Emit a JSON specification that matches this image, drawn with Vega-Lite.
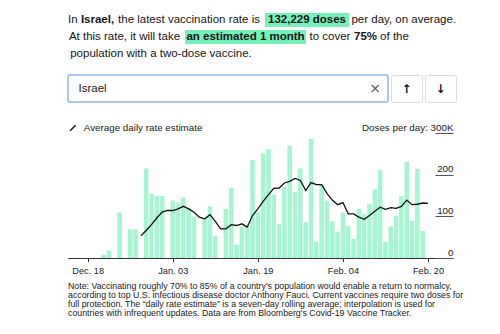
{
  "$schema": "https://vega.github.io/schema/vega-lite/v6.json",
  "padding": {"left": 67, "top": 13, "right": 0, "bottom": 0},
  "background": "white",
  "config": {
    "font": "Liberation Sans",
    "view": {"stroke": null},
    "text": {"font": "Liberation Sans", "fontSize": 11.5, "color": "#161616"}
  },
  "resolve": {"legend": {"color": "independent"}, "scale": {"color": "independent"}},
  "datasets": {
    "daily": [
      {"date": "2020-12-21T00:00:00", "doses": 8},
      {"date": "2020-12-22T00:00:00", "doses": 18},
      {"date": "2020-12-24T00:00:00", "doses": 109},
      {"date": "2020-12-26T00:00:00", "doses": 69},
      {"date": "2020-12-27T00:00:00", "doses": 69},
      {"date": "2020-12-29T00:00:00", "doses": 215},
      {"date": "2020-12-30T00:00:00", "doses": 154},
      {"date": "2020-12-31T00:00:00", "doses": 149},
      {"date": "2021-01-01T00:00:00", "doses": 149},
      {"date": "2021-01-03T00:00:00", "doses": 138},
      {"date": "2021-01-04T00:00:00", "doses": 133},
      {"date": "2021-01-05T00:00:00", "doses": 145},
      {"date": "2021-01-06T00:00:00", "doses": 120},
      {"date": "2021-01-07T00:00:00", "doses": 100},
      {"date": "2021-01-09T00:00:00", "doses": 95},
      {"date": "2021-01-10T00:00:00", "doses": 124},
      {"date": "2021-01-11T00:00:00", "doses": 52},
      {"date": "2021-01-13T00:00:00", "doses": 118},
      {"date": "2021-01-14T00:00:00", "doses": 168},
      {"date": "2021-01-15T00:00:00", "doses": 32},
      {"date": "2021-01-16T00:00:00", "doses": 76},
      {"date": "2021-01-17T00:00:00", "doses": 77},
      {"date": "2021-01-18T00:00:00", "doses": 235},
      {"date": "2021-01-19T00:00:00", "doses": 110},
      {"date": "2021-01-20T00:00:00", "doses": 251},
      {"date": "2021-01-21T00:00:00", "doses": 261},
      {"date": "2021-01-22T00:00:00", "doses": 152},
      {"date": "2021-01-23T00:00:00", "doses": 81},
      {"date": "2021-01-24T00:00:00", "doses": 171},
      {"date": "2021-01-25T00:00:00", "doses": 269},
      {"date": "2021-01-26T00:00:00", "doses": 159},
      {"date": "2021-01-27T00:00:00", "doses": 215},
      {"date": "2021-01-28T00:00:00", "doses": 86},
      {"date": "2021-01-29T00:00:00", "doses": 286},
      {"date": "2021-01-30T00:00:00", "doses": 39},
      {"date": "2021-01-31T00:00:00", "doses": 176},
      {"date": "2021-02-01T00:00:00", "doses": 138},
      {"date": "2021-02-02T00:00:00", "doses": 88},
      {"date": "2021-02-03T00:00:00", "doses": 63},
      {"date": "2021-02-04T00:00:00", "doses": 109},
      {"date": "2021-02-05T00:00:00", "doses": 77},
      {"date": "2021-02-06T00:00:00", "doses": 46},
      {"date": "2021-02-07T00:00:00", "doses": 118},
      {"date": "2021-02-08T00:00:00", "doses": 105},
      {"date": "2021-02-09T00:00:00", "doses": 130},
      {"date": "2021-02-10T00:00:00", "doses": 164},
      {"date": "2021-02-11T00:00:00", "doses": 211},
      {"date": "2021-02-12T00:00:00", "doses": 39},
      {"date": "2021-02-13T00:00:00", "doses": 76},
      {"date": "2021-02-14T00:00:00", "doses": 102},
      {"date": "2021-02-15T00:00:00", "doses": 148},
      {"date": "2021-02-16T00:00:00", "doses": 231},
      {"date": "2021-02-17T00:00:00", "doses": 89},
      {"date": "2021-02-18T00:00:00", "doses": 214},
      {"date": "2021-02-19T00:00:00", "doses": 65}
    ],
    "avg": [
      {"date": "2020-12-28T00:00:00", "rate": 53},
      {"date": "2020-12-29T00:00:00", "rate": 66},
      {"date": "2020-12-30T00:00:00", "rate": 80},
      {"date": "2020-12-31T00:00:00", "rate": 96},
      {"date": "2021-01-01T00:00:00", "rate": 110},
      {"date": "2021-01-02T00:00:00", "rate": 114},
      {"date": "2021-01-03T00:00:00", "rate": 114},
      {"date": "2021-01-04T00:00:00", "rate": 118},
      {"date": "2021-01-05T00:00:00", "rate": 124},
      {"date": "2021-01-06T00:00:00", "rate": 118},
      {"date": "2021-01-07T00:00:00", "rate": 110},
      {"date": "2021-01-08T00:00:00", "rate": 98},
      {"date": "2021-01-09T00:00:00", "rate": 94},
      {"date": "2021-01-10T00:00:00", "rate": 104},
      {"date": "2021-01-11T00:00:00", "rate": 88},
      {"date": "2021-01-12T00:00:00", "rate": 70},
      {"date": "2021-01-13T00:00:00", "rate": 70},
      {"date": "2021-01-14T00:00:00", "rate": 80},
      {"date": "2021-01-15T00:00:00", "rate": 78},
      {"date": "2021-01-16T00:00:00", "rate": 82},
      {"date": "2021-01-17T00:00:00", "rate": 74},
      {"date": "2021-01-18T00:00:00", "rate": 102},
      {"date": "2021-01-19T00:00:00", "rate": 118},
      {"date": "2021-01-20T00:00:00", "rate": 136},
      {"date": "2021-01-21T00:00:00", "rate": 152},
      {"date": "2021-01-22T00:00:00", "rate": 167},
      {"date": "2021-01-23T00:00:00", "rate": 168},
      {"date": "2021-01-24T00:00:00", "rate": 180},
      {"date": "2021-01-25T00:00:00", "rate": 184},
      {"date": "2021-01-26T00:00:00", "rate": 191},
      {"date": "2021-01-27T00:00:00", "rate": 186},
      {"date": "2021-01-28T00:00:00", "rate": 162},
      {"date": "2021-01-29T00:00:00", "rate": 181},
      {"date": "2021-01-30T00:00:00", "rate": 176},
      {"date": "2021-01-31T00:00:00", "rate": 176},
      {"date": "2021-02-01T00:00:00", "rate": 155},
      {"date": "2021-02-02T00:00:00", "rate": 139},
      {"date": "2021-02-03T00:00:00", "rate": 128},
      {"date": "2021-02-04T00:00:00", "rate": 133},
      {"date": "2021-02-05T00:00:00", "rate": 106},
      {"date": "2021-02-06T00:00:00", "rate": 106},
      {"date": "2021-02-07T00:00:00", "rate": 98},
      {"date": "2021-02-08T00:00:00", "rate": 93},
      {"date": "2021-02-09T00:00:00", "rate": 102},
      {"date": "2021-02-10T00:00:00", "rate": 112},
      {"date": "2021-02-11T00:00:00", "rate": 122},
      {"date": "2021-02-12T00:00:00", "rate": 117},
      {"date": "2021-02-13T00:00:00", "rate": 121},
      {"date": "2021-02-14T00:00:00", "rate": 119},
      {"date": "2021-02-15T00:00:00", "rate": 124},
      {"date": "2021-02-16T00:00:00", "rate": 139},
      {"date": "2021-02-17T00:00:00", "rate": 128},
      {"date": "2021-02-18T00:00:00", "rate": 129},
      {"date": "2021-02-19T00:00:00", "rate": 132},
      {"date": "2021-02-20T00:00:00", "rate": 131}
    ]
  },
  "spacing": 19,
  "vconcat": [
    {
      "spacing": 13,
      "vconcat": [
        {
          "spacing": 3,
          "vconcat": [
            {
              "spacing": 4,
              "bounds": "flush",
              "hconcat": [
                {"width": 9.5, "height": 14, "data": {"values": [{"t": "In"}]}, "mark": "text", "encoding": {"text": {"field": "t"}}},
                {"width": 31, "height": 14, "data": {"values": [{"t": "Israel,"}]}, "mark": {"type": "text", "fontWeight": "bold"}, "encoding": {"text": {"field": "t"}}},
                {"width": 144, "height": 14, "data": {"values": [{"t": "the latest vaccination rate is"}]}, "mark": "text", "encoding": {"text": {"field": "t"}}},
                {"width": 84, "height": 14, "view": {"fill": "#74f0b8", "stroke": null}, "data": {"values": [{"t": "132,229 doses"}]}, "mark": {"type": "text", "fontWeight": "bold"}, "encoding": {"text": {"field": "t"}}},
                {"width": 101.5, "height": 14, "data": {"values": [{"t": "per day, on average."}]}, "mark": "text", "encoding": {"text": {"field": "t"}}}
              ]
            },
            {
              "spacing": 4,
              "bounds": "flush",
              "hconcat": [
                {"width": 113, "height": 14, "data": {"values": [{"t": "At this rate, it will take"}]}, "mark": "text", "encoding": {"text": {"field": "t"}}},
                {"width": 121, "height": 14, "view": {"fill": "#74f0b8", "stroke": null}, "data": {"values": [{"t": "an estimated 1 month"}]}, "mark": {"type": "text", "fontWeight": "bold"}, "encoding": {"text": {"field": "t"}}},
                {"width": 40, "height": 14, "data": {"values": [{"t": "to cover"}]}, "mark": "text", "encoding": {"text": {"field": "t"}}},
                {"width": 23, "height": 14, "data": {"values": [{"t": "75%"}]}, "mark": {"type": "text", "fontWeight": "bold"}, "encoding": {"text": {"field": "t"}}},
                {"width": 27, "height": 14, "data": {"values": [{"t": "of the"}]}, "mark": "text", "encoding": {"text": {"field": "t"}}}
              ]
            },
            {"width": 186, "height": 14, "data": {"values": [{"t": "population with a two-dose vaccine."}]}, "mark": "text", "encoding": {"text": {"field": "t"}}}
          ]
        },
        {
          "spacing": 3,
          "bounds": "flush",
          "hconcat": [
            {
              "width": 320, "height": 27,
              "view": {"fill": "white", "stroke": "#8db7e4", "strokeWidth": 1.5, "cornerRadius": 2},
              "data": {"values": [{"name": "Israel"}]},
              "title": {"text": "×", "orient": "right", "angle": 0, "anchor": "middle", "offset": -24.5, "fontSize": 14, "fontWeight": "normal", "color": "#555", "font": "DejaVu Sans", "align": "center", "baseline": "middle"},
              "mark": {"type": "point", "opacity": 0},
              "encoding": {"y": {"field": "name", "type": "nominal", "axis": {"orient": "left", "title": null, "domain": false, "ticks": false, "labelAlign": "left", "labelPadding": -10, "labelFontSize": 11.5, "labelColor": "#161616", "labelFont": "Liberation Sans"}}}
            },
            {"width": 31, "height": 27, "view": {"fill": "white", "stroke": "#dddddd", "cornerRadius": 2}, "data": {"values": [{"t": "↑"}]}, "mark": {"type": "text", "font": "DejaVu Sans", "fontWeight": "bold", "fontSize": 12}, "encoding": {"text": {"field": "t"}}},
            {"width": 31, "height": 27, "view": {"fill": "white", "stroke": "#dddddd", "cornerRadius": 2}, "data": {"values": [{"t": "↓"}]}, "mark": {"type": "text", "font": "DejaVu Sans", "fontWeight": "bold", "fontSize": 12}, "encoding": {"text": {"field": "t"}}}
          ]
        }
      ]
    },
    {
      "width": 385,
      "height": 125,
      "title": {
        "text": [
          "Note: Vaccinating roughly 70% to 85% of a country's population would enable a return to normalcy,",
          "according to top U.S. infectious disease doctor Anthony Fauci. Current vaccines require two doses for",
          "full protection. The “daily rate estimate” is a seven-day rolling average; interpolation is used for",
          "countries with infrequent updates. Data are from Bloomberg's Covid-19 Vaccine Tracker."
        ],
        "orient": "bottom",
        "anchor": "start",
        "frame": "group",
        "fontSize": 8.8,
        "fontWeight": "normal",
        "lineHeight": 9,
        "color": "#222",
        "offset": 6
      },
      "layer": [
        {
          "data": {"name": "daily"},
          "mark": {"type": "bar", "width": 4.6, "color": "#a6f4d1"},
          "encoding": {
            "x": {
              "field": "date", "type": "temporal",
              "scale": {"padding": 0, "domain": [{"year": 2020, "month": 12, "date": 14, "hours": 7, "minutes": 12}, {"year": 2021, "month": 2, "date": 24, "hours": 16, "minutes": 48}]},
              "axis": {
                "title": null, "grid": false, "format": "%b. %d",
                "values": [{"year": 2020, "month": 12, "date": 18}, {"year": 2021, "month": 1, "date": 3}, {"year": 2021, "month": 1, "date": 19}, {"year": 2021, "month": 2, "date": 4}, {"year": 2021, "month": 2, "date": 20}],
                "tickSize": 3.5, "tickColor": "#333", "domainColor": "#333", "labelColor": "#222", "labelFontSize": 9.2, "labelPadding": 5
              }
            },
            "y": {
              "field": "doses", "type": "quantitative",
              "scale": {"domain": [0, 300]},
              "axis": {
                "orient": "right", "title": null, "grid": false, "domain": false,
                "values": [0, 100, 200, 300],
                "labelExpr": "datum.value == 300 ? 'Doses per day: 300K' : datum.label",
                "tickSize": -18, "labelPadding": 18, "tickColor": "#555",
                "labelAlign": "right", "labelBaseline": "bottom", "labelOffset": -1,
                "labelFontSize": 9.8, "labelColor": "#222"
              }
            }
          }
        },
        {
          "data": {"name": "avg"},
          "mark": {"type": "line", "strokeWidth": 1.3},
          "encoding": {
            "x": {"field": "date", "type": "temporal"},
            "y": {"field": "rate", "type": "quantitative"},
            "color": {
              "datum": "Average daily rate estimate",
              "scale": {"range": ["#111111"]},
              "legend": {
                "orient": "top", "title": null, "direction": "horizontal",
                "symbolType": "M-1,1L1,-1", "symbolSize": 30, "symbolStrokeWidth": 1.4,
                "labelFontSize": 9.8, "labelColor": "#222", "labelOffset": 6, "padding": 0, "offset": -1
              }
            }
          }
        }
      ]
    }
  ]
}
